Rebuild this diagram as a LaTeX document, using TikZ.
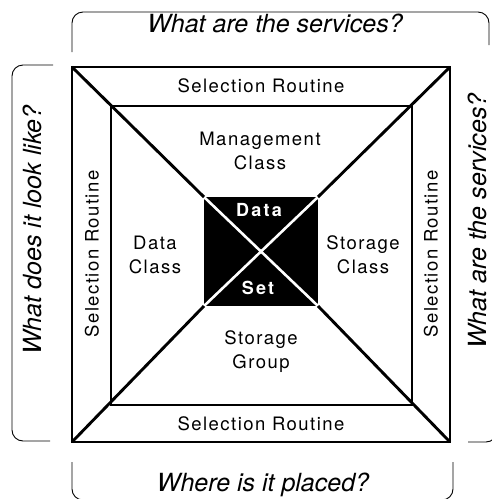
\documentclass[tikz,border=0pt]{standalone}
\usepackage{fontspec}
\setmainfont{TeX Gyre Heros}
\newfontfamily\spaced[LetterSpace=8]{TeX Gyre Heros}
\newfontfamily\spacedbold[LetterSpace=12]{TeX Gyre Heros Bold}
\begin{document}
\begin{tikzpicture}[x=1pt,y=-1pt,
  lab/.style={font=\spaced\fontsize{18.5}{24}\selectfont, align=center, inner sep=0pt},
  quest/.style={font=\fontsize{25}{30}\selectfont\itshape, inner sep=0pt},
  core/.style={font=\spacedbold\fontsize{18}{24}\selectfont, text=white, inner sep=0pt},
  bracket/.style={line width=0.9pt, rounded corners=11pt},
  outerbox/.style={line width=2.6pt},
  innerbox/.style={line width=2pt},
  diag/.style={line width=2.9pt},
  cross/.style={line width=2.6pt, white}]
\useasboundingbox (0,0) rectangle (492,499);
\clip (0,0) rectangle (492,499);
% corners
\coordinate (O1) at (72,67);
\coordinate (O2) at (450,67);
\coordinate (O3) at (450,442);
\coordinate (O4) at (72,442);
\coordinate (I1) at (111,106);
\coordinate (I2) at (412,106);
\coordinate (I3) at (412,405);
\coordinate (I4) at (111,405);
\coordinate (C1) at (204,197);
\coordinate (C2) at (318,197);
\coordinate (C3) at (318,306);
\coordinate (C4) at (204,306);
% core square
\fill[black] (C1) rectangle (C3);
\draw[cross] (C1) -- (C3);
\draw[cross] (C2) -- (C4);
% boxes
\draw[innerbox] (I1) rectangle (I3);
\draw[outerbox] (O1) rectangle (O3);
\draw[diag] (O1) -- (C1);
\draw[diag] (O2) -- (C2);
\draw[diag] (O3) -- (C3);
\draw[diag] (O4) -- (C4);
% brackets
\draw[bracket] (72,52) -- (72,12) -- (489,12) -- (489,45);
\draw[bracket] (53,65) -- (12,65) -- (12,441) -- (50,441);
\draw[bracket] (468,442) -- (497,442) -- (497,400);
\draw[bracket] (72,462) -- (72,500) -- (453,500) -- (453,462);
% labels
\node[lab] (srt) at (261,86) {Selection Routine};
\node[lab] (srb) at (261,424) {Selection Routine};
\node[lab, rotate=90] (srl) at (92,254) {Selection Routine};
\node[lab, rotate=90] (srr) at (431,254) {Selection Routine};
\node[lab] (mc) at (260,151) {Management\\Class};
\node[lab] (dc) at (155,255) {Data\\Class};
\node[lab] (sc) at (363,255) {Storage\\Class};
\node[lab] (sg) at (261,352) {Storage\\Group};
\node[core] (data) at (259,210) {Data};
\node[core] (set) at (258,288) {Set};
\node[quest] (qt) at (275,23) {What are the services?};
\node[quest] (qb) at (263,485) {Where is it placed?};
\node[quest, rotate=90] (ql) at (32,230) {What does it look like?};
\node[quest, rotate=90] (qr) at (477,221) {What are the services?};
\end{tikzpicture}
\end{document}
